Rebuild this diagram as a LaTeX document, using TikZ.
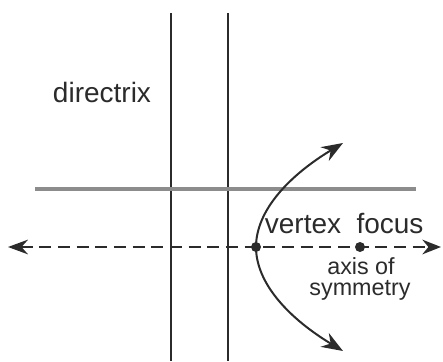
\documentclass[tikz,border=0pt]{standalone}
\usepackage{fontspec}
\setmainfont{Liberation Sans}
\usetikzlibrary{arrows.meta}
\definecolor{ink}{HTML}{2B2B2B}
\definecolor{lightline}{HTML}{8C8C8C}
\begin{document}
\begin{tikzpicture}[x=0.75pt,y=-0.75pt,
  darkline/.style={draw=ink,line width=1.7pt},
  grayline/.style={draw=lightline,line width=3pt},
  axisline/.style={draw=ink,line width=1.5pt,dash pattern=on 9pt off 5pt,
     {Stealth[length=15pt,width=11pt]}-{Stealth[length=14pt,width=11pt]}},
  curveline/.style={draw=ink,line width=1.5pt,
     {Stealth[length=16pt,width=12pt]}-{Stealth[length=16pt,width=12pt]}},
  dot/.style={circle,fill=ink,inner sep=0pt,minimum size=7.5pt},
  bigtext/.style={text=ink,font=\fontsize{21}{24}\selectfont,inner sep=0pt,anchor=base},
  smalltext/.style={text=ink,font=\fontsize{17.5}{20}\selectfont,inner sep=0pt,anchor=base}]
\useasboundingbox (0,0) rectangle (443,361);
% directrix lines
\coordinate (d1t) at (171,13);
\coordinate (d1b) at (171,361);
\coordinate (d2t) at (228,13);
\coordinate (d2b) at (228,361);
\draw[darkline] (d1t) -- (d1b);
\draw[darkline] (d2t) -- (d2b);
% horizontal gray line
\coordinate (hl) at (35,189);
\coordinate (hr) at (416,189);
\draw[grayline] (hl) -- (hr);
% axis of symmetry
\coordinate (al) at (8,247);
\coordinate (ar) at (441,247);
\draw[axisline] (al) -- (ar);
% parabola
\coordinate (ptop) at (343,143);
\coordinate (pbot) at (343,351);
\node[dot] (vertex) at (256,247) {};
\node[dot] (focus) at (360,247) {};
\draw[curveline] (ptop) .. controls (290,175) and (256,210) .. (vertex.center)
   .. controls (256,284) and (290,319) .. (pbot);
% labels
\node[bigtext] (ldirectrix) at (102,102) {directrix};
\node[bigtext] (lvertex) at (303,233) {vertex};
\node[bigtext] (lfocus) at (390,233) {focus};
\node[smalltext] (laxis) at (361,274) {axis of};
\node[smalltext] (lsym) at (360,295) {symmetry};
\end{tikzpicture}
\end{document}
